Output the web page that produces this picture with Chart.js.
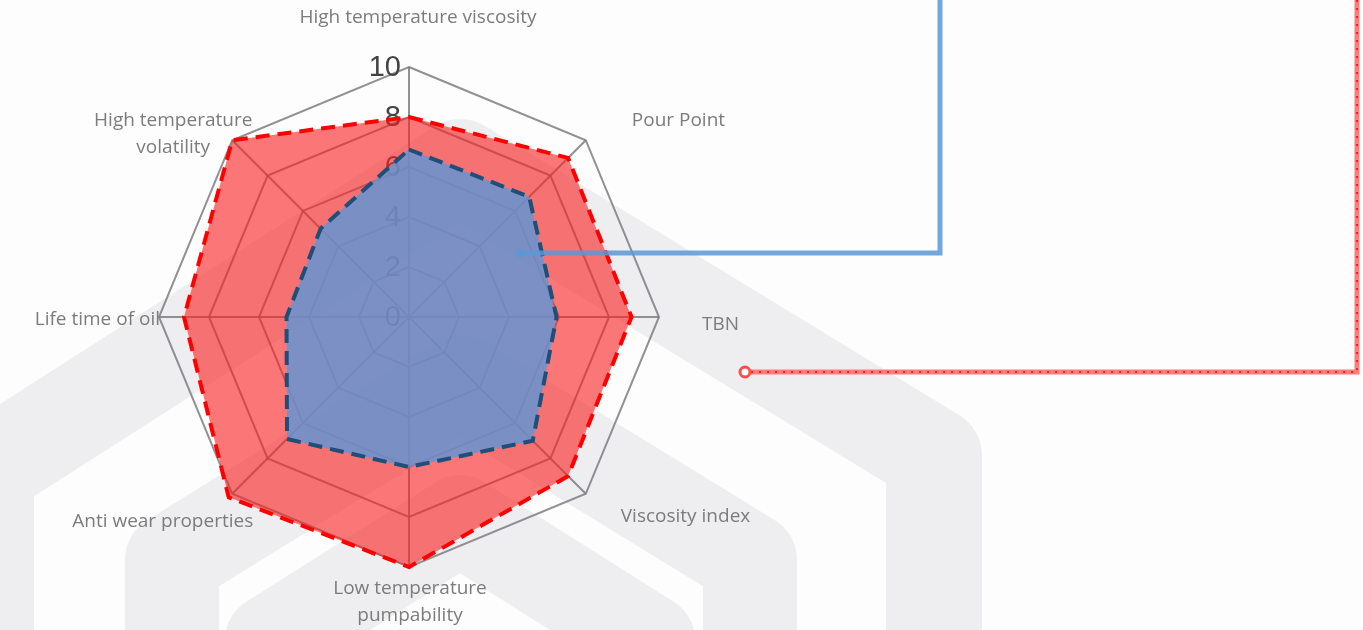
<!DOCTYPE html>
<html>
<head>
<meta charset="utf-8">
<script src="https://cdn.jsdelivr.net/npm/chart.js@4"></script>
<style>
  html,body{margin:0;padding:0;background:#fdfdfd;}
  #wrap{width:1363px;height:630px;position:relative;}
</style>
</head>
<body>
<div id="wrap"><canvas id="c"></canvas></div>
<script>
// ---- data ----
const categories = ['High temperature viscosity','Pour Point','TBN','Viscosity index','Low temperature pumpability','Anti wear properties','Life time of oil','High temperature volatility'];
const categoryLines = [['High temperature viscosity'],['Pour Point'],['TBN'],['Viscosity index'],['Low temperature','pumpability'],['Anti wear properties'],['Life time of oil'],['High temperature','volatility']];
const redValues  = [8, 9, 8.9, 9, 10, 10.2, 9, 10];
const blueValues = [6.7, 6.8, 5.9, 7, 6, 6.9, 4.9, 5];
const tickValues = [0, 2, 4, 6, 8, 10];
const tickLabels = ['0', '2', '4', '6', '8', '10'];

// ---- layout / style ----
const GEOM = {cx: 409, cy: 317, r: 250};
const labelOffsets = [[9,-49,'center'],[46,-20,'left'],[43,8,'left'],[35,23,'left'],[1,22,'center'],[21,28,'right'],[1,3,'right'],[-59,-20,'center']];
const LABEL_FONT = '19px "Open Sans"';
const LABEL_COLOR = '#7c7c7c';
const LINE_GAP = 27;

const bgPlugin = {
  id: 'bg',
  beforeDraw(chart) {
    const ctx = chart.ctx;
    ctx.save();
    ctx.fillStyle = '#fdfdfd';
    ctx.fillRect(0, 0, chart.width, chart.height);
    ctx.strokeStyle = '#eeeef0';
    ctx.lineJoin = 'round';
    ctx.lineCap = 'butt';
    const bands = [
      {w: 96, pts: [[-14, 700], [-14, 470], [460, 167], [934, 456], [934, 700]]},
      {w: 94, pts: [[172, 700], [172, 560], [460, 382], [750, 560], [750, 700]]},
      {w: 90, pts: [[270, 700], [270, 640], [460, 520], [650, 640], [650, 700]]}
    ];
    bands.forEach(b => {
      ctx.lineWidth = b.w;
      ctx.beginPath();
      b.pts.forEach((p, i) => i ? ctx.lineTo(p[0], p[1]) : ctx.moveTo(p[0], p[1]));
      ctx.stroke();
    });
    ctx.restore();
  }
};

const ticksPlugin = {
  id: 'tickText',
  beforeDatasetsDraw(chart) {
    const s = chart.scales.r, ctx = chart.ctx;
    ctx.save();
    ctx.font = '29px "Liberation Sans"';
    ctx.fillStyle = '#434343';
    ctx.textAlign = 'right';
    ctx.textBaseline = 'middle';
    tickValues.forEach((v, i) => {
      const y = s.yCenter - s.getDistanceFromCenterForValue(v);
      ctx.fillText(tickLabels[i], s.xCenter - 8, y + 1);
    });
    ctx.restore();
  }
};

const labelsPlugin = {
  id: 'catLabels',
  afterDraw(chart) {
    const s = chart.scales.r, ctx = chart.ctx;
    ctx.save();
    ctx.font = LABEL_FONT;
    ctx.fillStyle = LABEL_COLOR;
    ctx.textBaseline = 'middle';
    categoryLines.forEach((lines, i) => {
      const p = s.getPointPosition(i, s.drawingArea);
      const o = labelOffsets[i];
      ctx.textAlign = o[2];
      lines.forEach((t, k) => ctx.fillText(t, p.x + o[0], p.y + o[1] + k * LINE_GAP));
    });
    // leader lines
    const bx = s.xCenter + 111, by = s.yCenter - 64;
    ctx.lineCap = 'butt';
    ctx.strokeStyle = 'rgba(91,152,214,0.85)';
    ctx.lineWidth = 5;
    ctx.beginPath();
    ctx.moveTo(bx, by); ctx.lineTo(940, by); ctx.lineTo(940, 0);
    ctx.stroke();
    ctx.fillStyle = 'rgba(91,152,214,0.9)';
    ctx.beginPath(); ctx.arc(bx, by, 4, 0, Math.PI * 2); ctx.fill();

    const rx = s.xCenter + 336, ry = s.yCenter + 55;
    ctx.strokeStyle = 'rgba(255,110,110,0.9)';
    ctx.lineWidth = 5;
    ctx.beginPath();
    ctx.moveTo(rx + 6, ry); ctx.lineTo(1357, ry); ctx.lineTo(1357, 0);
    ctx.stroke();
    ctx.strokeStyle = 'rgba(255,20,20,0.9)';
    ctx.lineWidth = 2;
    ctx.setLineDash([2, 6]);
    ctx.beginPath();
    ctx.moveTo(rx + 6, ry); ctx.lineTo(1357, ry); ctx.lineTo(1357, 0);
    ctx.stroke();
    ctx.setLineDash([]);
    ctx.strokeStyle = 'rgba(255,60,60,0.9)';
    ctx.fillStyle = '#fdfdfd';
    ctx.lineWidth = 3;
    ctx.beginPath(); ctx.arc(rx, ry, 5, 0, Math.PI * 2); ctx.fill(); ctx.stroke();
    ctx.restore();
  }
};

new Chart(document.getElementById('c'), {
  type: 'radar',
  data: {
    labels: categories,
    datasets: [
      {
        label: 'Blue',
        data: blueValues,
        fill: true,
        backgroundColor: 'rgba(95,150,215,0.82)',
        borderColor: '#1f4e79',
        borderWidth: 4,
        borderDash: [14, 8],
        pointRadius: 0,
        pointHoverRadius: 0
      },
      {
        label: 'Red',
        data: redValues,
        fill: true,
        backgroundColor: 'rgba(250,30,30,0.6)',
        borderColor: '#ff0000',
        borderWidth: 4,
        borderDash: [14, 8],
        pointRadius: 0,
        pointHoverRadius: 0
      }
    ]
  },
  options: {
    responsive: true,
    maintainAspectRatio: false,
    animation: false,
    plugins: { legend: { display: false }, tooltip: { enabled: false } },
    scales: {
      r: {
        min: 0,
        max: 10,
        ticks: { stepSize: 2, display: false },
        pointLabels: { display: false },
        grid: { color: 'rgba(125,125,130,0.85)', lineWidth: 2 },
        angleLines: { color: 'rgba(125,125,130,0.85)', lineWidth: 2 },
        afterFit(scale) {
          scale.xCenter = GEOM.cx;
          scale.yCenter = GEOM.cy;
          scale.drawingArea = GEOM.r;
        }
      }
    }
  },
  plugins: [bgPlugin, ticksPlugin, labelsPlugin]
});
</script>
</body>
</html>
